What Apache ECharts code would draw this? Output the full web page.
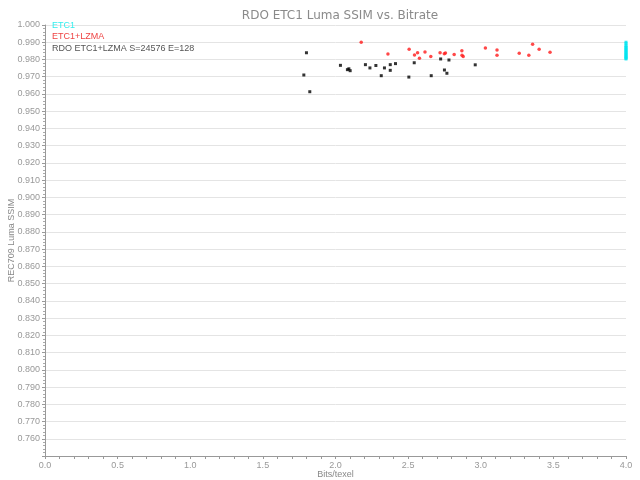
<!DOCTYPE html>
<html>
<head>
<meta charset="utf-8">
<script src="https://cdn.jsdelivr.net/npm/echarts@6/dist/echarts.min.js"></script>
<style>html,body{margin:0;padding:0;background:#fff}#c{width:640px;height:480px}</style>
</head>
<body>
<div id="c"></div>
<script>
var titleText = 'RDO ETC1 Luma SSIM vs. Bitrate';
var xName = 'Bits/texel';
var yName = 'REC709 Luma SSIM';
var seriesNames = ['ETC1', 'ETC1+LZMA', 'RDO ETC1+LZMA S=24576 E=128'];

var etc1X = [4.0, 4.0, 4.0, 4.0, 4.0, 4.0, 4.0, 4.0, 4.0, 4.0, 4.0, 4.0, 4.0, 4.0, 4.0, 4.0];
var etc1Y = [0.9900, 0.9893, 0.9881, 0.9874, 0.9868, 0.9861, 0.9855, 0.9849, 0.9842, 0.9836, 0.9830, 0.9824, 0.9818, 0.9812, 0.9807, 0.9803];

var lzmaX = [2.177, 2.361, 2.507, 2.544, 2.565, 2.578, 2.616, 2.656, 2.720, 2.749, 2.757, 2.817, 2.870, 2.871, 2.879, 3.032, 3.112, 3.112, 3.265, 3.331, 3.357, 3.402, 3.477];
var lzmaY = [0.9900, 0.9832, 0.9859, 0.9826, 0.9839, 0.9807, 0.9843, 0.9818, 0.9839, 0.9833, 0.9838, 0.9829, 0.9850, 0.9825, 0.9817, 0.9867, 0.9855, 0.9825, 0.9836, 0.9825, 0.9888, 0.9859, 0.9842];

var rdoX = [1.800, 1.782, 1.823, 2.034, 2.082, 2.092, 2.101, 2.206, 2.237, 2.278, 2.315, 2.337, 2.377, 2.377, 2.413, 2.505, 2.542, 2.659, 2.724, 2.750, 2.767, 2.781, 2.962];
var rdoY = [0.9839, 0.9710, 0.9613, 0.9766, 0.9741, 0.9746, 0.9735, 0.9770, 0.9751, 0.9765, 0.9706, 0.9751, 0.9770, 0.9737, 0.9776, 0.9698, 0.9781, 0.9706, 0.9803, 0.9739, 0.9720, 0.9797, 0.9769];

function zip(xs, ys) { return xs.map(function (x, i) { return [x, ys[i]]; }); }

var font = 'DejaVu Sans';
var chart = echarts.init(document.getElementById('c'), null, {renderer: 'canvas'});
chart.setOption({
  animation: false,
  backgroundColor: '#ffffff',
  title: {
    text: titleText,
    left: 335, top: 5, textAlign: 'center',
    textStyle: {fontFamily: font, fontSize: 12, fontWeight: 'normal', color: '#8a8a8a'}
  },
  legend: {
    orient: 'vertical', left: 42, top: 16, itemGap: 2.5, itemWidth: 0, itemHeight: 8,
    icon: 'none', selectedMode: false,
    textStyle: {fontFamily: 'Liberation Sans', fontSize: 9},
    data: [
      {name: seriesNames[0], textStyle: {color: '#33eeee'}},
      {name: seriesNames[1], textStyle: {color: '#ee4444'}},
      {name: seriesNames[2], textStyle: {color: '#555555'}}
    ]
  },
  grid: {left: 45, right: 14, top: 25, bottom: 24, containLabel: false, outerBoundsMode: 'none'},
  xAxis: {
    type: 'value', min: 0, max: 4, interval: 0.5,
    name: xName, nameLocation: 'middle', nameGap: 14, nameMoveOverlap: false,
    nameTextStyle: {fontFamily: 'Liberation Sans', fontSize: 9, color: '#888'},
    axisLine: {show: true, onZero: false, lineStyle: {color: '#999', width: 1}},
    axisTick: {show: true, length: 3, lineStyle: {color: '#999'}},
    minorTick: {show: true, splitNumber: 5, length: 3, lineStyle: {color: '#999'}},
    axisLabel: {fontFamily: 'Liberation Sans', fontSize: 9, color: '#999', margin: 5,
      formatter: function (v) { return v.toFixed(1); }},
    splitLine: {show: false}
  },
  yAxis: {
    type: 'value', min: 0.75, max: 1.0, interval: 0.01,
    name: yName, nameLocation: 'middle', nameGap: 29, nameMoveOverlap: false,
    nameTextStyle: {fontFamily: 'Liberation Sans', fontSize: 9, color: '#888'},
    axisLine: {show: true, onZero: false, lineStyle: {color: '#999', width: 1}},
    axisTick: {show: true, length: 3, lineStyle: {color: '#999'}},
    minorTick: {show: true, splitNumber: 5, length: 2, lineStyle: {color: '#aaa'}},
    axisLabel: {fontFamily: 'Liberation Sans', fontSize: 9, color: '#999', margin: 5,
      formatter: function (v) { return v < 0.7551 ? '' : v.toFixed(3); }},
    splitLine: {show: true, lineStyle: {color: '#e4e4e4', width: 1}}
  },
  series: [
    {name: seriesNames[0], type: 'scatter', data: zip(etc1X, etc1Y), symbol: 'rect', symbolSize: [3, 3],
      itemStyle: {color: '#00e5f0'}},
    {name: seriesNames[1], type: 'scatter', data: zip(lzmaX, lzmaY), symbol: 'circle', symbolSize: 3.5,
      itemStyle: {color: '#ff1a1a'}},
    {name: seriesNames[2], type: 'scatter', data: zip(rdoX, rdoY), symbol: 'rect', symbolSize: 3,
      itemStyle: {color: '#000000'}}
  ]
});
</script>
</body>
</html>
